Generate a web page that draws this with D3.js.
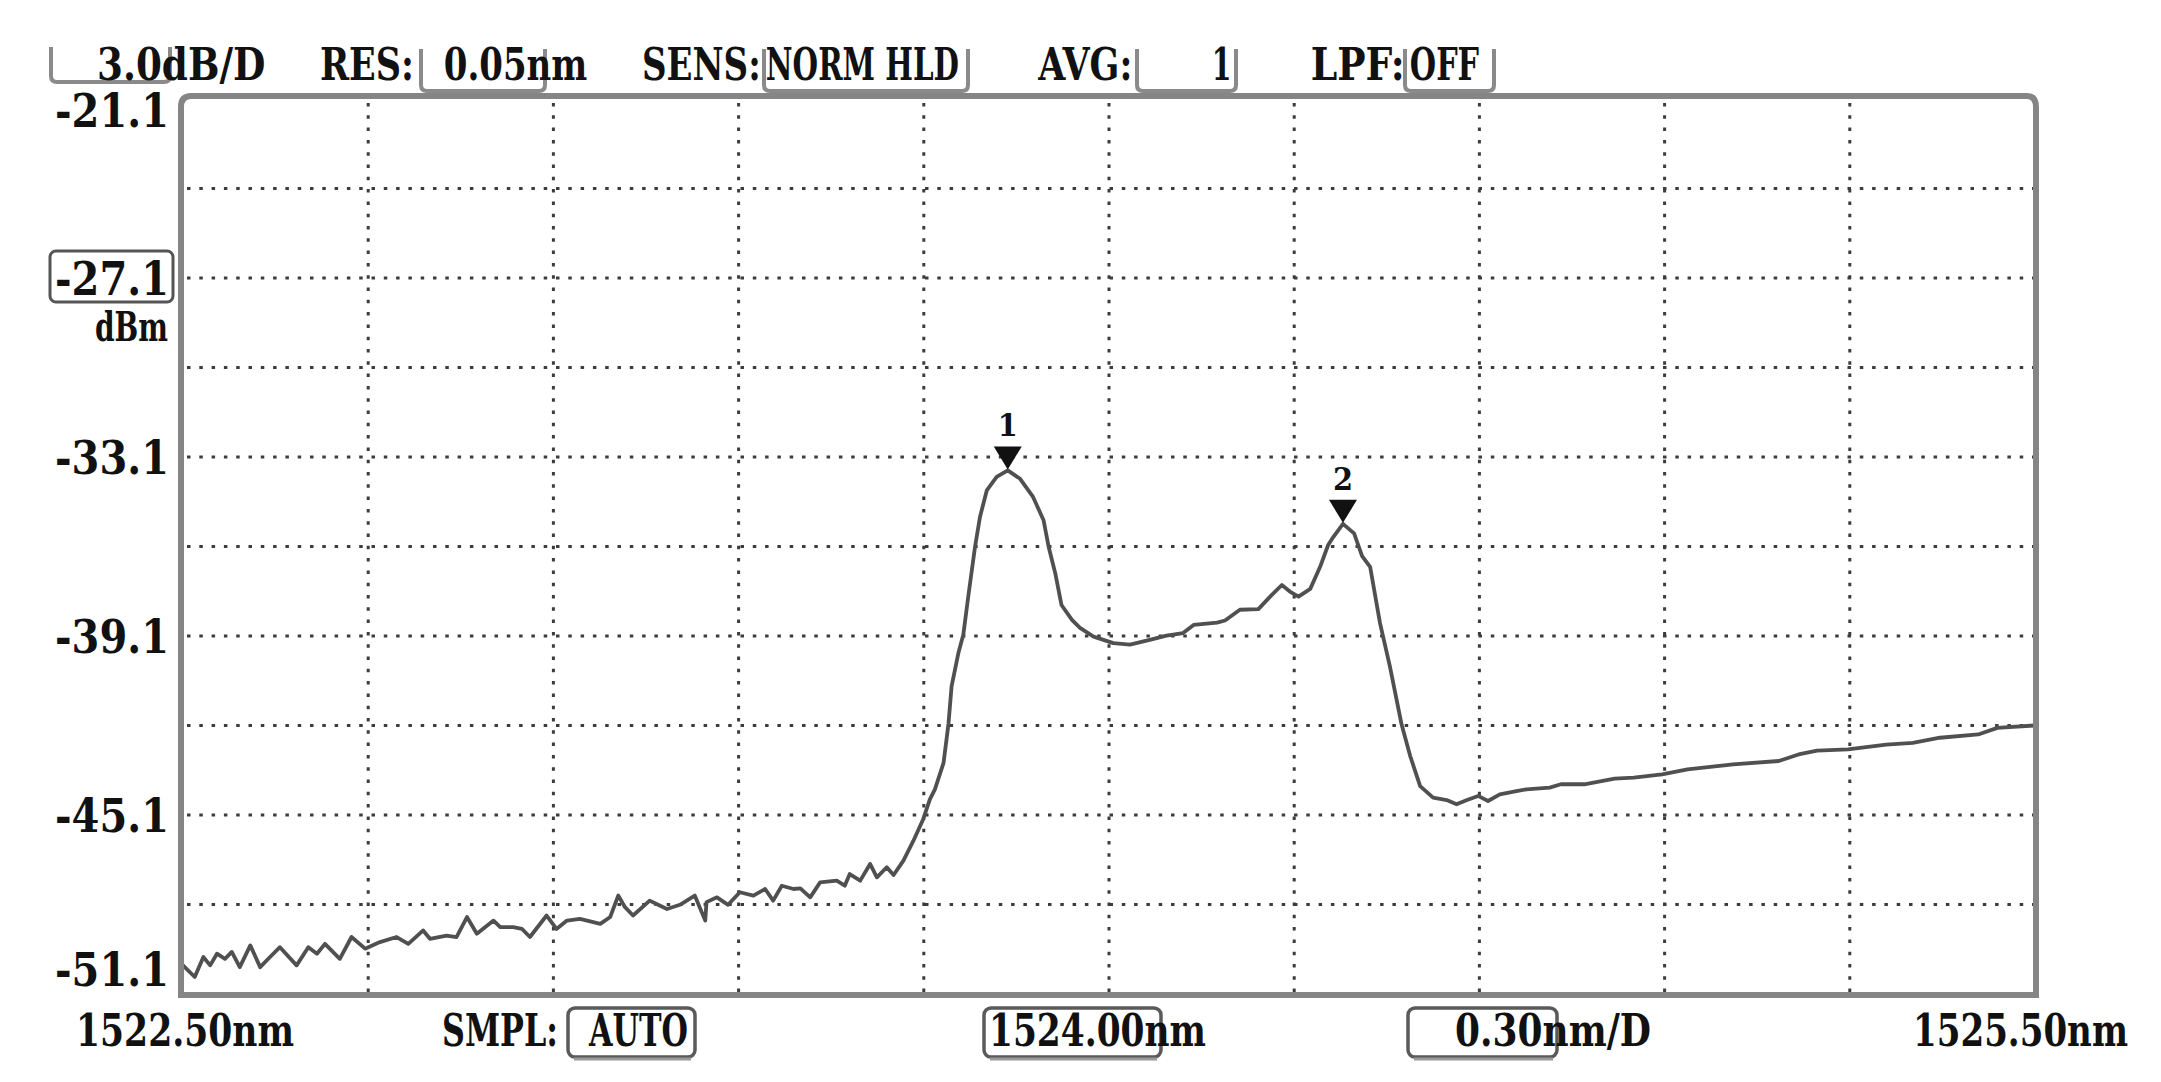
<!DOCTYPE html>
<html><head><meta charset="utf-8">
<script src="https://cdn.jsdelivr.net/npm/d3@7"></script>
<style>
html,body{margin:0;padding:0;background:#fff;}
svg{display:block;}
text{font-family:"DejaVu Serif Condensed","DejaVu Serif",serif;font-weight:bold;font-stretch:condensed;fill:#111;white-space:pre;}
</style></head><body>
<svg id="c" width="2161" height="1082"></svg>
<script>
// ---------------- data ----------------
const wavelengthNm = [
1522.500,1522.519,1522.533,1522.544,1522.555,1522.568,1522.579,1522.592,1522.609,1522.625,
1522.641,1522.657,1522.684,1522.703,1522.717,1522.730,1522.754,1522.773,1522.795,1522.819,
1522.846,1522.865,1522.889,1522.900,1522.927,1522.943,1522.960,1522.976,1523.003,1523.014,
1523.035,1523.049,1523.062,1523.089,1523.105,1523.122,1523.143,1523.176,1523.192,1523.205,
1523.216,1523.229,1523.256,1523.273,1523.284,1523.305,1523.329,1523.346,1523.348,1523.365,
1523.383,1523.402,1523.424,1523.443,1523.456,1523.470,1523.489,1523.500,1523.516,1523.532,
1523.559,1523.572,1523.580,1523.597,1523.613,1523.624,1523.640,1523.651,1523.667,1523.683,
1523.699,1523.710,1523.718,1523.732,1523.740,1523.745,1523.756,1523.764,1523.772,1523.783,
1523.791,1523.802,1523.818,1523.836,1523.856,1523.877,1523.894,1523.902,1523.913,1523.923,
1523.940,1523.953,1523.975,1524.007,1524.034,1524.066,1524.093,1524.120,1524.137,1524.175,
1524.188,1524.212,1524.242,1524.261,1524.280,1524.293,1524.307,1524.326,1524.342,1524.355,
1524.363,1524.379,1524.397,1524.410,1524.423,1524.439,1524.455,1524.474,1524.488,1524.504,
1524.525,1524.547,1524.563,1524.580,1524.598,1524.614,1524.633,1524.660,1524.676,1524.714,
1524.732,1524.770,1524.819,1524.850,1524.896,1524.937,1525.011,1525.085,1525.117,1525.147,
1525.197,1525.259,1525.302,1525.346,1525.408,1525.439,1525.499];
const powerDbm = [
-50.14,-50.53,-49.86,-50.14,-49.75,-49.92,-49.69,-50.20,-49.47,-50.20,
-49.86,-49.53,-50.14,-49.53,-49.75,-49.42,-49.92,-49.19,-49.58,-49.36,
-49.19,-49.42,-48.97,-49.25,-49.14,-49.19,-48.52,-49.08,-48.64,-48.86,
-48.86,-48.92,-49.19,-48.47,-48.92,-48.64,-48.58,-48.75,-48.52,-47.80,
-48.19,-48.47,-47.97,-48.14,-48.25,-48.11,-47.80,-48.64,-48.02,-47.86,
-48.11,-47.69,-47.80,-47.58,-47.97,-47.47,-47.58,-47.56,-47.86,-47.36,
-47.30,-47.47,-47.08,-47.30,-46.74,-47.19,-46.85,-47.11,-46.63,-45.97,
-45.24,-44.57,-44.24,-43.35,-42.04,-40.79,-39.67,-39.06,-37.78,-36.11,
-35.11,-34.22,-33.77,-33.55,-33.83,-34.44,-35.22,-36.09,-37.00,-38.06,
-38.56,-38.83,-39.12,-39.34,-39.39,-39.23,-39.09,-39.00,-38.73,-38.65,
-38.58,-38.22,-38.20,-37.78,-37.39,-37.61,-37.78,-37.52,-36.78,-36.05,
-35.79,-35.34,-35.66,-36.42,-36.78,-38.67,-40.12,-42.07,-43.13,-44.13,
-44.52,-44.60,-44.74,-44.60,-44.46,-44.63,-44.41,-44.30,-44.24,-44.18,
-44.07,-44.07,-43.88,-43.85,-43.74,-43.57,-43.40,-43.29,-43.07,-42.94,
-42.90,-42.74,-42.68,-42.51,-42.40,-42.18,-42.10];

const markerIds = ["1", "2"];
const markerNm = [1523.836, 1524.379];
const markerDbm = [-33.55, -35.34];

const yTickValues = [-21.1, -27.1, -33.1, -39.1, -45.1, -51.1];
const yTickLabels = ["-21.1", "-27.1", "-33.1", "-39.1", "-45.1", "-51.1"];
const yUnitLabel = "dBm";
const xStartNm = 1522.5, xEndNm = 1525.5, nmPerDiv = 0.30;
const yTopDbm = -21.1, dbPerDiv = 3.0;

const headerTexts = ["3.0dB/D", "RES:", "0.05nm", "SENS:", "NORM HLD", "AVG:", "1", "LPF:", "OFF"];
const footerTexts = ["1522.50nm", "SMPL:", "AUTO", "1524.00nm", "0.30nm/D", "1525.50nm"];

// ---------------- layout ----------------
const L = 183, R = 2035, T = 99, B = 994;
const fontSize = 44;
const headerCols = [0, 9, 14, 22, 27, 38, 45, 49, 53];
const headerX0 = 96, headerCw = 24.77, headerBase = 80;
const footerX = [76, 442, 589, 989, 1455, 1913];
const footerW = [218, 116, 99, 217, 196, 215];
const footerBase = 1046;

const svg = d3.select("#c");
svg.append("rect").attr("width", 2161).attr("height", 1082).attr("fill", "#fff");

const x = d3.scaleLinear().domain([xStartNm, xEndNm]).range([L, R]);
const y = d3.scaleLinear().domain([yTopDbm - 10 * dbPerDiv, yTopDbm]).range([B, T]);

// fit a text element horizontally to a width by scaling its glyphs
function fitText(node, px, py, w) {
  const sel = d3.select(node).attr("x", 0).attr("y", 0);
  const nat = node.getComputedTextLength() || w;
  sel.attr("transform", `translate(${px},${py}) scale(${w / nat},1)`);
}

// grid
const g = svg.append("g");
const vLines = d3.range(1, 10).map(i => xStartNm + i * nmPerDiv);
const hLines = d3.range(1, 10).map(i => yTopDbm - i * dbPerDiv);
g.selectAll(".vg").data(vLines).join("line")
  .attr("x1", d => x(d)).attr("x2", d => x(d)).attr("y1", T + 4).attr("y2", B - 2)
  .attr("stroke", "#3c3c3c").attr("stroke-width", 3).attr("stroke-dasharray", "3.5 8.8");
g.selectAll(".hg").data(hLines).join("line")
  .attr("y1", d => y(d)).attr("y2", d => y(d)).attr("x1", L + 4).attr("x2", R - 2)
  .attr("stroke", "#3c3c3c").attr("stroke-width", 3).attr("stroke-dasharray", "3.5 8.8");

// trace
const pts = wavelengthNm.map((w, i) => [w, powerDbm[i]]);
svg.append("path").datum(pts)
  .attr("d", d3.line().x(d => x(d[0])).y(d => y(d[1])))
  .attr("fill", "none").attr("stroke", "#505050").attr("stroke-width", 3.8)
  .attr("stroke-linejoin", "round").attr("stroke-linecap", "round");

// frame
svg.append("path")
  .attr("d", `M${L-2},${T+8} Q${L-2},${T-3} ${L+8},${T-3} H${R-8} Q${R+1},${T-3} ${R+1},${T+8} V${B+1} H${L-2} Z`)
  .attr("fill", "none").attr("stroke", "#858585").attr("stroke-width", 6);

// header boxes (open top)
function openBox(x0, x1, y0, y1, r) {
  return `M${x0},${y0} V${y1 - r} Q${x0},${y1} ${x0 + r},${y1} H${x1 - r} Q${x1},${y1} ${x1},${y1 - r} V${y0}`;
}
const headerBoxes = [[51, 170, 47, 82], [421, 545, 49, 91], [764, 968, 49, 91], [1137, 1236, 49, 91], [1405, 1494, 49, 91]];
svg.selectAll(".hb").data(headerBoxes).join("path")
  .attr("d", d => openBox(d[0], d[1], d[2], d[3], 6))
  .attr("fill", "none").attr("stroke", "#8a8a8a").attr("stroke-width", 4);

// header text
svg.selectAll(".ht").data(headerTexts).join("text")
  .attr("font-size", fontSize)
  .text(d => d)
  .each(function (d, i) {
    fitText(this, headerX0 + headerCols[i] * headerCw + 1, headerBase, d.length * headerCw - 5);
  });

// y labels
const yLabW = 114, yLabRight = 169;
const yBase = yTickValues.map((v, i) => {
  if (i === 0) return y(v) + 28;
  if (i === yTickValues.length - 1) return y(v) - 8;
  return y(v) + 17;
});
svg.append("rect").attr("x", 50).attr("y", y(yTickValues[1]) - 27).attr("width", 123).attr("height", 51)
  .attr("rx", 6).attr("fill", "#fff").attr("stroke", "#555").attr("stroke-width", 3);
svg.selectAll(".yl").data(yTickLabels).join("text")
  .attr("font-size", 46)
  .text(d => d)
  .each(function (d, i) { fitText(this, yLabRight - yLabW, yBase[i], yLabW); });
svg.append("text").attr("font-size", fontSize * 0.92).text(yUnitLabel)
  .each(function () { fitText(this, 95, y(yTickValues[1]) + 63, 73); });

// footer boxes
const footerBoxes = [[568, 695], [984, 1161], [1408, 1557]];
svg.selectAll(".fb").data(footerBoxes).join("rect")
  .attr("x", d => d[0]).attr("y", 1008).attr("width", d => d[1] - d[0]).attr("height", 49)
  .attr("rx", 7).attr("fill", "none").attr("stroke", "#5a5a5a").attr("stroke-width", 3.5);
svg.selectAll(".fbs").data(footerBoxes).join("line")
  .attr("x1", d => d[0] + 6).attr("x2", d => d[1] - 4).attr("y1", 1059).attr("y2", 1059)
  .attr("stroke", "#9a9a9a").attr("stroke-width", 3);

svg.selectAll(".ft").data(footerTexts).join("text")
  .attr("font-size", fontSize)
  .text(d => d)
  .each(function (d, i) { fitText(this, footerX[i], footerBase, footerW[i]); });

// markers
const mk = markerIds.map((id, i) => ({ id, px: x(markerNm[i]), py: y(markerDbm[i]) }));
svg.selectAll(".mt").data(mk).join("path")
  .attr("d", d => `M${d.px - 14},${d.py - 24} H${d.px + 14} L${d.px},${d.py - 1} Z`)
  .attr("fill", "#111");
svg.selectAll(".ml").data(mk).join("text")
  .attr("x", d => d.px).attr("y", d => d.py - 34)
  .attr("text-anchor", "middle").attr("font-size", 32)
  .text(d => d.id);
</script>
</body></html>
